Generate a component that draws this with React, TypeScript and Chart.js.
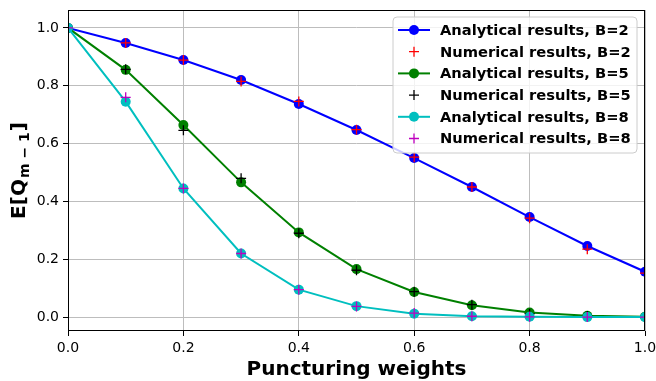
import React, { useEffect, useRef } from "react";
import { Chart, registerables } from "chart.js";
Chart.register(...registerables);

const weights = [0, 0.1, 0.2, 0.3, 0.4, 0.5, 0.6, 0.7, 0.8, 0.9, 1.0];
const analyticalB2 = [1.0, 0.948, 0.889, 0.82, 0.737, 0.647, 0.55, 0.45, 0.346, 0.246, 0.157];
const numericalB2 = [1.0, 0.948, 0.889, 0.815, 0.746, 0.648, 0.553, 0.45, 0.342, 0.235, 0.152];
const analyticalB5 = [1.0, 0.855, 0.664, 0.466, 0.293, 0.166, 0.087, 0.041, 0.016, 0.005, 0.001];
const numericalB5 = [1.0, 0.857, 0.646, 0.48, 0.29, 0.162, 0.088, 0.043, 0.012, 0.004, 0.001];
const analyticalB8 = [1.0, 0.745, 0.445, 0.22, 0.095, 0.038, 0.012, 0.003, 0.001, 0.0, 0.0];
const numericalB8 = [1.0, 0.76, 0.445, 0.22, 0.095, 0.037, 0.014, 0.003, 0.001, 0.0, 0.0];
const xTicks = [0, 0.2, 0.4, 0.6, 0.8, 1.0];
const yTicks = [0, 0.2, 0.4, 0.6, 0.8, 1.0];
const seriesLabels = [
  "Analytical results, B=2",
  "Numerical results, B=2",
  "Analytical results, B=5",
  "Numerical results, B=5",
  "Analytical results, B=8",
  "Numerical results, B=8",
];
const xTitle = "Puncturing weights";

const FONT = "'DejaVu Sans', sans-serif";

function pts(ys: number[]) {
  return weights.map((x, i) => ({ x, y: ys[i] }));
}

export default function App() {
  const ref = useRef<HTMLCanvasElement | null>(null);
  useEffect(() => {
    const canvas = ref.current!;
    const analytic = (label: string, ys: number[], color: string, order: number) => ({
      label,
      data: pts(ys),
      showLine: true,
      borderColor: color,
      backgroundColor: color,
      borderWidth: 2,
      pointRadius: 5,
      pointBorderWidth: 0,
      pointBackgroundColor: color,
      pointStyle: "circle",
      clip: 0,
      order,
    });
    const numeric = (label: string, ys: number[], color: string, order: number) => ({
      label,
      data: pts(ys),
      showLine: false,
      borderColor: color,
      backgroundColor: color,
      pointRadius: 5,
      pointBorderWidth: 1.3,
      pointStyle: "cross",
      clip: 0,
      order,
    });
    const datasets: any[] = [
      analytic(seriesLabels[0], analyticalB2, "#0000ff", 6),
      numeric(seriesLabels[1], numericalB2, "#ff0000", 5),
      analytic(seriesLabels[2], analyticalB5, "#008000", 4),
      numeric(seriesLabels[3], numericalB5, "#000000", 3),
      analytic(seriesLabels[4], analyticalB8, "#00bfbf", 2),
      numeric(seriesLabels[5], numericalB8, "#bf00bf", 1),
    ];

    const overlay = {
      id: "overlay",
      afterDatasetsDraw(chart: any) {
        const ctx = chart.ctx as CanvasRenderingContext2D;
        const a = chart.chartArea;
        ctx.save();
        // frame
        ctx.strokeStyle = "#000";
        ctx.lineWidth = 1;
        ctx.strokeRect(Math.round(a.left) + 0.5, Math.round(a.top) + 0.5, Math.round(a.right - a.left) - 1, Math.round(a.bottom - a.top) - 1);

        // legend
        const bx = a.right - 252;
        const by = a.top + 7;
        const bw = 244;
        const bh = 136;
        const r = 4;
        ctx.beginPath();
        ctx.moveTo(bx + r, by);
        ctx.lineTo(bx + bw - r, by);
        ctx.arcTo(bx + bw, by, bx + bw, by + r, r);
        ctx.lineTo(bx + bw, by + bh - r);
        ctx.arcTo(bx + bw, by + bh, bx + bw - r, by + bh, r);
        ctx.lineTo(bx + r, by + bh);
        ctx.arcTo(bx, by + bh, bx, by + bh - r, r);
        ctx.lineTo(bx, by + r);
        ctx.arcTo(bx, by, bx + r, by, r);
        ctx.closePath();
        ctx.fillStyle = "rgba(255,255,255,0.8)";
        ctx.fill();
        ctx.strokeStyle = "#cccccc";
        ctx.lineWidth = 1;
        ctx.stroke();

        ctx.font = `bold 14.7px ${FONT}`;
        ctx.textBaseline = "middle";
        ctx.textAlign = "left";
        chart.data.datasets.forEach((ds: any, i: number) => {
          const y = by + 13 + i * 21.7;
          const hx1 = bx + 5;
          const hx2 = bx + 37;
          const mx = (hx1 + hx2) / 2;
          ctx.strokeStyle = ds.borderColor;
          ctx.fillStyle = ds.borderColor;
          if (ds.showLine) {
            ctx.lineWidth = 2;
            ctx.beginPath();
            ctx.moveTo(hx1, y);
            ctx.lineTo(hx2, y);
            ctx.stroke();
            ctx.beginPath();
            ctx.arc(mx, y, 5, 0, Math.PI * 2);
            ctx.fill();
          } else {
            ctx.lineWidth = 1.3;
            ctx.beginPath();
            ctx.moveTo(mx - 5, y);
            ctx.lineTo(mx + 5, y);
            ctx.moveTo(mx, y - 5);
            ctx.lineTo(mx, y + 5);
            ctx.stroke();
          }
          ctx.fillStyle = "#000";
          ctx.fillText(ds.label, bx + 47, y + 1);
        });

        // x title
        ctx.font = `bold 20px ${FONT}`;
        ctx.textAlign = "center";
        ctx.textBaseline = "alphabetic";
        ctx.fillStyle = "#000";
        ctx.fillText(xTitle, (a.left + a.right) / 2, 375);

        // y title with subscript
        const big = `bold 20px ${FONT}`;
        const small = `bold 14px ${FONT}`;
        const p1 = "E[Q";
        const sub = "m \u2212 1";
        const p3 = "]";
        ctx.font = big;
        const w1 = ctx.measureText(p1).width;
        const w3 = ctx.measureText(p3).width;
        ctx.font = small;
        const w2 = ctx.measureText(sub).width + 2;
        const total = w1 + w2 + w3;
        ctx.translate(25, (a.top + a.bottom) / 2);
        ctx.rotate(-Math.PI / 2);
        ctx.textAlign = "left";
        let cx = -total / 2;
        ctx.font = big;
        ctx.fillText(p1, cx, 0);
        cx += w1;
        ctx.font = small;
        ctx.fillText(sub, cx + 1, 4);
        cx += w2;
        ctx.font = big;
        ctx.fillText(p3, cx, 0);
        ctx.restore();
      },
    };

    const chart = new Chart(canvas, {
      type: "scatter",
      data: { datasets },
      options: {
        animation: false,
        responsive: false,
        maintainAspectRatio: false,
        layout: { padding: { top: 10, right: 11, left: 0, bottom: 0 } },
        plugins: { legend: { display: false }, tooltip: { enabled: false } },
        scales: {
          x: {
            type: "linear",
            min: 0,
            max: 1,
            afterBuildTicks: (s: any) => {
              s.ticks = xTicks.map((v) => ({ value: v }));
            },
            afterFit: (s: any) => {
              s.height = 50;
              s.paddingLeft = 0;
              s.paddingRight = 0;
            },
            ticks: {
              callback: (v: any) => Number(v).toFixed(1),
              color: "#000",
              font: { family: FONT, size: 14 },
              padding: 4,
              maxRotation: 0,
            },
            grid: { color: "#bdbdbd", lineWidth: 1, tickColor: "#000", tickLength: 5 },
            border: { display: false },
          },
          y: {
            type: "linear",
            min: -0.048,
            max: 1.062,
            afterBuildTicks: (s: any) => {
              s.ticks = yTicks.map((v) => ({ value: v }));
            },
            afterFit: (s: any) => {
              s.width = 68;
              s.paddingTop = 0;
              s.paddingBottom = 0;
            },
            ticks: {
              callback: (v: any) => Number(v).toFixed(1),
              color: "#000",
              font: { family: FONT, size: 14 },
              padding: 4,
            },
            grid: { color: "#bdbdbd", lineWidth: 1, tickColor: "#000", tickLength: 5 },
            border: { display: false },
          },
        },
      },
      plugins: [overlay],
    } as any);
    return () => chart.destroy();
  }, []);
  return (
    <div style={{ position: "fixed", left: 0, top: 0, width: 656, height: 381, background: "#fff" }}>
      <canvas ref={ref} width={656} height={381} style={{ display: "block", width: 656, height: 381 }} />
    </div>
  );
}
